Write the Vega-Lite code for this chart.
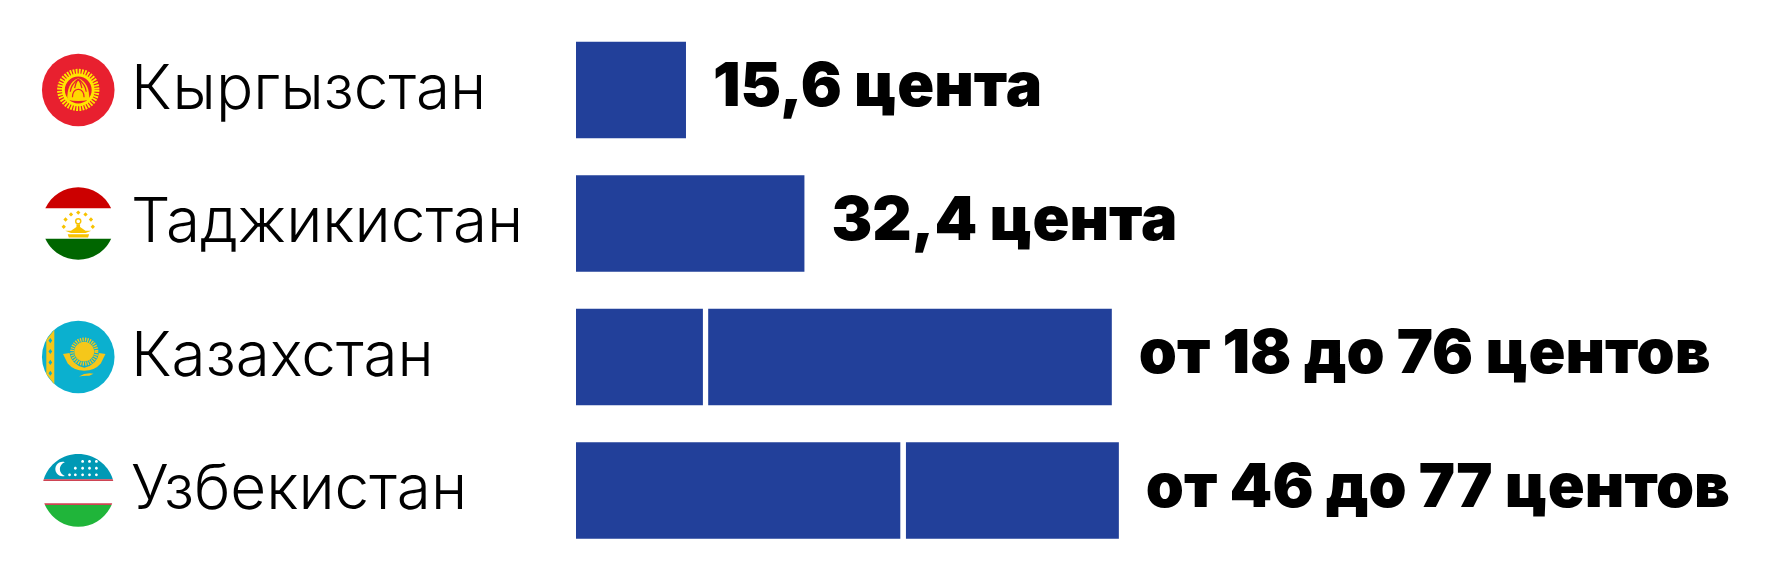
{
"$schema":"https://vega.github.io/schema/vega-lite/v6.json",
"width":1201,"height":534,
"autosize":"none",
"padding":{"left":576,"top":23.2,"right":0,"bottom":23.8},
"background":"#ffffff",
"config":{"view":{"stroke":null}},
"datasets":{"prices":[
{"country":"Кыргызстан","start":0,"end":15.6,"label":"15,6 цента"},
{"country":"Таджикистан","start":0,"end":32.4,"label":"32,4 цента"},
{"country":"Казахстан","start":0,"end":18,"label":null},
{"country":"Казахстан","start":18.75,"end":76,"label":"от 18 до 76 центов"},
{"country":"Узбекистан","start":0,"end":46,"label":null},
{"country":"Узбекистан","start":46.8,"end":77,"label":"от 46 до 77 центов"}
]},
"encoding":{
"y":{"field":"country","type":"nominal","sort":null,
"scale":{"domain":["Кыргызстан","Таджикистан","Казахстан","Узбекистан"],"paddingInner":0.277,"paddingOuter":0.1385},
"axis":{"title":null,"domain":false,"ticks":false,"labelAlign":"left","labelPadding":445.5,"labelLimit":0,"labelFont":"Inter","labelFontSize":62,"labelFontWeight":300,"labelColor":"#000000","labelBaseline":"middle"}}
},
"layer":[
{"data":{"name":"prices"},"mark":{"type":"bar","color":"#22409A"},
"encoding":{"x":{"field":"start","type":"quantitative","axis":null,"scale":{"domain":[0,170.35],"nice":false,"zero":false}},"x2":{"field":"end"}}},
{"data":{"name":"prices"},"transform":[{"filter":"datum.label"}],
"mark":{"type":"text","align":"left","baseline":"middle","dx":27,"dy":-1.5,"font":"Inter","fontSize":61,"fontWeight":900,"color":"#000000"},
"encoding":{"x":{"field":"end","type":"quantitative"},"text":{"field":"label"}}},
{"data":{"values":[{"country":"Кыргызстан"}]},
"encoding":{"x":{"datum":-70.6}},
"layer":[
{"mark":{"type":"point","shape":"circle","filled":true,"size":5271,"color":"#E8202F","opacity":1}},
{"mark":{"type":"point","shape":"M0.5,0 A0.5,0.5 0 1 1 -0.5,0 A0.5,0.5 0 1 1 0.5,0 Z","filled":false,"size":5271,"stroke":"#FFE600","strokeWidth":6,"strokeDash":[1.7,1.15],"opacity":1}},
{"mark":{"type":"point","shape":"M0.45,0 A0.45,0.45 0 1 1 -0.45,0 A0.45,0.45 0 1 1 0.45,0 Z M0.37,0 A0.37,0.37 0 1 0 -0.37,0 A0.37,0.37 0 1 0 0.37,0 Z","filled":true,"size":5271,"color":"#FFE600","opacity":1}},
{"mark":{"type":"point","shape":"M-0.3,0.27 Q-0.32,-0.2 0,-0.32 Q0.32,-0.2 0.3,0.27 Q0,0.34 -0.3,0.27 Z","filled":true,"size":5271,"color":"#FFD800","opacity":1}},
{"mark":{"type":"point","shape":"M-0.22,0.05 Q-0.2,-0.15 0,-0.3 M0.22,0.05 Q0.2,-0.15 0,-0.3 M-0.1,-0.05 Q-0.08,-0.2 0,-0.3 M0.1,-0.05 Q0.08,-0.2 0,-0.3 M-0.16,0.2 Q-0.16,0 0,-0.02 Q0.16,0 0.16,0.2","filled":false,"size":5271,"stroke":"#E8202F","strokeWidth":1.2,"opacity":1}}
]},
{"data":{"values":[{"country":"Таджикистан"}]},
"encoding":{"x":{"datum":-70.6}},
"layer":[
{"mark":{"type":"point","shape":"M-0.907,-0.42 A1,1 0 0 1 0.907,-0.42 Z","filled":true,"size":5271,"color":"#CC0000","opacity":1}},
{"mark":{"type":"point","shape":"M-0.907,0.42 A1,1 0 0 0 0.907,0.42 Z","filled":true,"size":5271,"color":"#006600","opacity":1}},
{"mark":{"type":"point","shape":"M0,-0.36 L0.06,-0.3 L0,-0.24 L-0.06,-0.3 Z M-0.2,-0.31 L-0.14,-0.25 L-0.2,-0.19 L-0.26,-0.25 Z M0.2,-0.31 L0.26,-0.25 L0.2,-0.19 L0.14,-0.25 Z M-0.35,-0.17 L-0.29,-0.11 L-0.35,-0.05 L-0.41,-0.11 Z M0.35,-0.17 L0.41,-0.11 L0.35,-0.05 L0.29,-0.11 Z M-0.4,0.03 L-0.34,0.09 L-0.4,0.15 L-0.46,0.09 Z M0.4,0.03 L0.46,0.09 L0.4,0.15 L0.34,0.09 Z M-0.29,0.3 L0.3,0.3 L0.27,0.39 L-0.26,0.39 Z M-0.36,0.2 L-0.2,0.2 L-0.05,0.1 L-0.05,0.02 L0.05,0.02 L0.05,0.1 L0.2,0.2 L0.36,0.2 L0.2,0.26 L-0.2,0.26 Z","filled":true,"size":5271,"color":"#F8C300","opacity":1}},
{"mark":{"type":"point","shape":"M0.07,-0.06 A0.07,0.07 0 1 1 -0.07,-0.06 A0.07,0.07 0 1 1 0.07,-0.06 Z","filled":false,"size":5271,"stroke":"#F8C300","strokeWidth":1.4,"opacity":1}}
]},
{"data":{"values":[{"country":"Казахстан"}]},
"encoding":{"x":{"datum":-70.6}},
"layer":[
{"mark":{"type":"point","shape":"circle","filled":true,"size":5271,"color":"#0BB0CF","opacity":1}},
{"mark":{"type":"point","shape":"M-0.88,-0.47 L-0.66,-0.75 L-0.66,0.75 L-0.88,0.47 Z","filled":true,"size":5271,"color":"#F5C71A","opacity":1}},
{"mark":{"type":"point","shape":"M-0.77,-0.52 L-0.72,-0.45 L-0.77,-0.38 L-0.82,-0.45 Z M-0.77,-0.22 L-0.72,-0.15 L-0.77,-0.08 L-0.82,-0.15 Z M-0.77,0.08 L-0.72,0.15 L-0.77,0.22 L-0.82,0.15 Z M-0.77,0.38 L-0.72,0.45 L-0.77,0.52 L-0.82,0.45 Z","filled":true,"size":5271,"color":"#0BB0CF","opacity":1}},
{"mark":{"type":"point","shape":"M0.5,-0.147 A0.335,0.335 0 1 1 -0.17,-0.147 A0.335,0.335 0 1 1 0.5,-0.147 Z","filled":false,"size":5271,"stroke":"#F5C71A","strokeWidth":3.8,"strokeDash":[1.3,1.1],"opacity":1}},
{"mark":{"type":"point","shape":"M0.44,-0.147 A0.275,0.275 0 1 1 -0.11,-0.147 A0.275,0.275 0 1 1 0.44,-0.147 Z M-0.42,-0.08 L-0.24,-0.11 Q-0.2,0.2 0.165,0.3 Q0.53,0.2 0.57,-0.11 L0.75,-0.08 L0.62,0.18 Q0.45,0.38 0.165,0.38 Q-0.12,0.38 -0.29,0.18 Z M0.02,0.54 Q0.2,0.42 0.42,0.46 L0.3,0.52 Q0.15,0.51 0.02,0.54 Z","filled":true,"size":5271,"color":"#F5C71A","opacity":1}}
]},
{"data":{"values":[{"country":"Узбекистан"}]},
"encoding":{"x":{"datum":-70.6}},
"layer":[
{"mark":{"type":"point","shape":"M-0.951,-0.31 A1,1 0 0 1 0.951,-0.31 Z","filled":true,"size":5271,"color":"#0099B5","opacity":1}},
{"mark":{"type":"point","shape":"M-0.951,-0.31 L0.951,-0.31 L0.965,-0.26 L-0.965,-0.26 Z M-0.936,0.35 L0.936,0.35 L0.917,0.4 L-0.917,0.4 Z","filled":true,"size":5271,"color":"#CE4453","opacity":1}},
{"mark":{"type":"point","shape":"M-0.917,0.4 A1,1 0 0 0 0.917,0.4 Z","filled":true,"size":5271,"color":"#20B53A","opacity":1}},
{"mark":{"type":"point","shape":"M-0.37,-0.78 A0.2,0.2 0 1 0 -0.37,-0.4 A0.2,0.2 0 0 1 -0.37,-0.78 Z M0.08,-0.8 A0.04,0.04 0 1 1 0.16,-0.8 A0.04,0.04 0 1 1 0.08,-0.8 Z M0.27,-0.8 A0.04,0.04 0 1 1 0.35,-0.8 A0.04,0.04 0 1 1 0.27,-0.8 Z M0.46,-0.8 A0.04,0.04 0 1 1 0.54,-0.8 A0.04,0.04 0 1 1 0.46,-0.8 Z M-0.12,-0.61 A0.04,0.04 0 1 1 -0.04,-0.61 A0.04,0.04 0 1 1 -0.12,-0.61 Z M0.08,-0.61 A0.04,0.04 0 1 1 0.16,-0.61 A0.04,0.04 0 1 1 0.08,-0.61 Z M0.27,-0.61 A0.04,0.04 0 1 1 0.35,-0.61 A0.04,0.04 0 1 1 0.27,-0.61 Z M0.46,-0.61 A0.04,0.04 0 1 1 0.54,-0.61 A0.04,0.04 0 1 1 0.46,-0.61 Z M-0.28,-0.43 A0.04,0.04 0 1 1 -0.2,-0.43 A0.04,0.04 0 1 1 -0.28,-0.43 Z M-0.12,-0.43 A0.04,0.04 0 1 1 -0.04,-0.43 A0.04,0.04 0 1 1 -0.12,-0.43 Z M0.08,-0.43 A0.04,0.04 0 1 1 0.16,-0.43 A0.04,0.04 0 1 1 0.08,-0.43 Z M0.27,-0.43 A0.04,0.04 0 1 1 0.35,-0.43 A0.04,0.04 0 1 1 0.27,-0.43 Z M0.46,-0.43 A0.04,0.04 0 1 1 0.54,-0.43 A0.04,0.04 0 1 1 0.46,-0.43 Z","filled":true,"size":5271,"color":"#FFFFFF","opacity":1}}
]}
]
}
